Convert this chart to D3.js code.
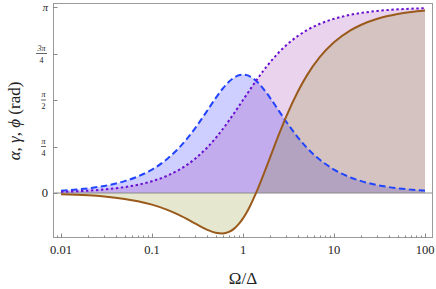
<!DOCTYPE html>
<html><head><meta charset="utf-8">
<script src="https://cdn.jsdelivr.net/npm/d3@7"></script>
<style>body{margin:0;background:#fff}svg{display:block}text{font-family:"Liberation Serif","Times New Roman",serif}</style>
</head><body>
<svg id="c" width="436" height="289"></svg>
<script>
// Data
const ratio = [0.01,0.015,0.02,0.03,0.05,0.07,0.1,0.15,0.2,0.3,0.4,0.5,0.6,0.7,0.8,0.9,1,1.1,1.2,1.4,1.7,2,2.5,3,4,5,7,10,15,20,30,50,70,100];
const alpha = [0.040,0.060,0.080,0.120,0.200,0.279,0.396,0.587,0.769,1.101,1.379,1.600,1.765,1.879,1.951,1.989,2.000,1.991,1.967,1.892,1.748,1.600,1.379,1.200,0.941,0.769,0.560,0.396,0.266,0.200,0.133,0.080,0.057,0.040];
const gamma = [0.020,0.030,0.040,0.060,0.100,0.140,0.199,0.298,0.395,0.583,0.761,0.927,1.081,1.222,1.350,1.466,1.571,1.666,1.752,1.901,2.078,2.214,2.381,2.498,2.652,2.747,2.858,2.942,3.009,3.042,3.075,3.102,3.113,3.122];
const phi   = [-0.020,-0.030,-0.040,-0.060,-0.100,-0.139,-0.197,-0.289,-0.374,-0.518,-0.618,-0.673,-0.684,-0.658,-0.602,-0.523,-0.429,-0.325,-0.215,0.009,0.330,0.614,1.001,1.298,1.710,1.978,2.298,2.546,2.743,2.842,2.942,3.022,3.056,3.082];
const xTickValues = [0.01,0.1,1,10,100];
const xTickLabels = ["0.01","0.1","1","10","100"];
const yTickValues = [0, Math.PI/4, Math.PI/2, 3*Math.PI/4, Math.PI];
const yTickNum = ["0","π","π","3π","π"];
const yTickDen = [null,"4","2","4",null];
const xTitle = "Ω/Δ";

const svg = d3.select("#c");
const F = {l:53, r:433, t:3, b:238};
const x = d3.scaleLog().domain([0.01,100]).range([61,425]);
const y = d3.scaleLinear().domain([0,Math.PI]).range([193,7]);

const series = [
  {v:alpha, line:"#2244ff", fill:"rgb(0,0,255)", dash:"6.5,3.5"},
  {v:gamma, line:"#6a0fd0", fill:"rgb(140,20,160)", dash:"2.4,2.6"},
  {v:phi,   line:"#9a5a1c", fill:"rgb(120,130,0)", dash:null}
];
const curve = d3.curveMonotoneX;
const area = v => d3.area().curve(curve).x((d,i)=>x(ratio[i])).y0(y(0)).y1((d,i)=>y(v[i]))(v);
const line = v => d3.line().curve(curve).x((d,i)=>x(ratio[i])).y((d,i)=>y(v[i]))(v);

series.forEach(s=>{
  svg.append("path").attr("d",area(s.v)).attr("fill",s.fill).attr("fill-opacity",0.19);
});
// zero axis line
svg.append("line").attr("x1",F.l).attr("x2",F.r).attr("y1",y(0)).attr("y2",y(0)).attr("stroke","#8a8a8a").attr("stroke-width",1);
series.forEach(s=>{
  const p = svg.append("path").attr("d",line(s.v)).attr("fill","none").attr("stroke",s.line).attr("stroke-width",2);
  if(s.dash) p.attr("stroke-dasharray",s.dash);
});

// frame
svg.append("rect").attr("x",F.l+0.5).attr("y",F.t+0.5).attr("width",F.r-F.l-1).attr("height",F.b-F.t-1)
  .attr("fill","none").attr("stroke","#9a9a9a").attr("stroke-width",1);

// x ticks (major + minor)
const minor = [];
[0.001,0.01,0.1,1,10,100].forEach(dec=>{for(let k=2;k<=9;k++){const v=dec*k; if(x(v)>F.l+1 && x(v)<F.r-1) minor.push(v);}});
svg.selectAll(".mn").data(minor).enter().append("line")
  .attr("x1",d=>Math.round(x(d))+0.5).attr("x2",d=>Math.round(x(d))+0.5)
  .attr("y1",F.b).attr("y2",F.b-2.5).attr("stroke","#8a8a8a");
svg.selectAll(".mj").data(xTickValues).enter().append("line")
  .attr("x1",d=>Math.round(x(d))+0.5).attr("x2",d=>Math.round(x(d))+0.5)
  .attr("y1",F.b).attr("y2",F.b-4.5).attr("stroke","#8a8a8a");
svg.selectAll(".xl").data(xTickValues).enter().append("text")
  .attr("x",d=>x(d)).attr("y",254).attr("text-anchor","middle").attr("font-size",12.5).attr("fill","#222")
  .text((d,i)=>xTickLabels[i]);

// y ticks
yTickValues.forEach((v,i)=>{
  const yy = Math.round(y(v))+0.5;
  svg.append("line").attr("x1",F.l).attr("x2",F.l+4.5).attr("y1",yy).attr("y2",yy).attr("stroke","#8a8a8a");
  if(yTickDen[i]===null){
    svg.append("text").attr("x",48).attr("y",y(v)+4).attr("text-anchor","end")
      .attr("font-size",yTickNum[i]==="0"?12.5:10.5).attr("font-style",yTickNum[i]==="0"?"normal":"italic").attr("fill","#222").text(yTickNum[i]);
  } else {
    const cx = yTickNum[i].length>1 ? 41.5 : 43.5;
    const w = yTickNum[i].length>1 ? 11 : 5;
    svg.append("text").attr("x",cx).attr("y",y(v)-3).attr("text-anchor","middle").attr("font-size",8).attr("font-style","italic").attr("fill","#222").text(yTickNum[i]);
    svg.append("line").attr("x1",cx-w/2).attr("x2",cx+w/2).attr("y1",y(v)).attr("y2",y(v)).attr("stroke","#222").attr("stroke-width",0.7);
    svg.append("text").attr("x",cx).attr("y",y(v)+9).attr("text-anchor","middle").attr("font-size",8).attr("fill","#222").text(yTickDen[i]);
  }
});

// titles
svg.append("text").attr("x",243).attr("y",284).attr("text-anchor","middle").attr("font-size",17).attr("fill","#222").text(xTitle);
const yt = svg.append("text").attr("transform","translate(20,121) rotate(-90)").attr("text-anchor","middle").attr("font-size",17).attr("fill","#222");
yt.append("tspan").attr("font-style","italic").text("α");
yt.append("tspan").text(", ");
yt.append("tspan").attr("font-style","italic").text("γ");
yt.append("tspan").text(", ");
yt.append("tspan").attr("font-style","italic").text("ϕ");
yt.append("tspan").text(" (rad)");
</script>
</body></html>
